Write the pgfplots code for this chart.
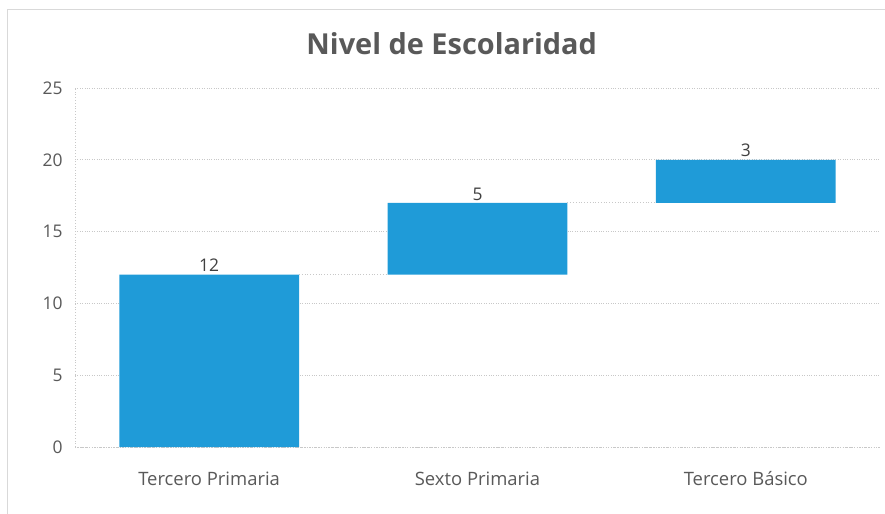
\documentclass[border=0pt]{standalone}
\usepackage{pgfplots}
\pgfplotsset{compat=1.18}
\usepackage{fontspec}
\setmainfont{Open Sans}
\definecolor{barblue}{HTML}{1F9BD8}
\definecolor{txt}{HTML}{595959}
\definecolor{lbl}{HTML}{404040}
\definecolor{gridc}{HTML}{C8C8C8}
\definecolor{framec}{HTML}{D9D9D9}
\begin{document}
\begin{tikzpicture}
\path[use as bounding box] (-75bp,-67bp) rectangle (810bp,447bp);
\draw[framec, line width=1bp] (-67bp,-67bp) -- (-67bp,437bp) -- (810bp,437bp);
\begin{axis}[
  at={(0,0)}, anchor=south west,
  scale only axis, width=805bp, height=359bp,
  ybar stacked, bar width=0.67,
  xmin=-0.5, xmax=2.5, ymin=0, ymax=25,
  xtick={0,1,2},
  xticklabels={Tercero Primaria, Sexto Primaria, Tercero Básico},
  ytick={0,5,10,15,20,25},
  separate axis lines,
  axis x line*=bottom, axis y line*=left,
  axis line style={gridc, dotted, line width=0.8bp, -},
  ymajorgrids, grid style={gridc, dotted, line width=0.8bp},
  major tick length=0pt,
  tick label style={font=\fontsize{17.5}{20}\selectfont, color=txt},
  /pgf/number format/assume math mode=true,
  yticklabel style={xshift=-9bp},
  xticklabel style={yshift=-21bp, font=\fontsize{18.5}{21}\selectfont},
  title={Nivel de Escolaridad},
  title style={font=\bfseries\fontsize{29}{34}\selectfont, color=txt, at={(0.468,1)}, anchor=center, yshift=38bp},
]
\addplot[draw=none, fill=none] coordinates {(0,0) (1,12) (2,17)};
\addplot[fill=barblue, draw=none] coordinates {(0,12) (1,5) (2,3)};
\end{axis}
\begin{axis}[
  at={(0,0)}, anchor=south west,
  scale only axis, width=805bp, height=359bp,
  xmin=-0.5, xmax=2.5, ymin=0, ymax=25,
  hide axis,
  /pgf/number format/assume math mode=true,
]
\addplot[gridc, dotted, line width=0.8bp] coordinates {(0.335,12) (0.665,12)};
\addplot[gridc, dotted, line width=0.8bp] coordinates {(1.335,17) (1.665,17)};
\addplot[draw=none, mark=none, nodes near coords, point meta=explicit,
  every node near coord/.append style={font=\fontsize{17.5}{20}\selectfont, color=lbl, anchor=south, inner sep=2.5bp}]
  coordinates {(0,12) [12] (1,17) [5] (2,20) [3]};
\end{axis}
\end{tikzpicture}
\end{document}
